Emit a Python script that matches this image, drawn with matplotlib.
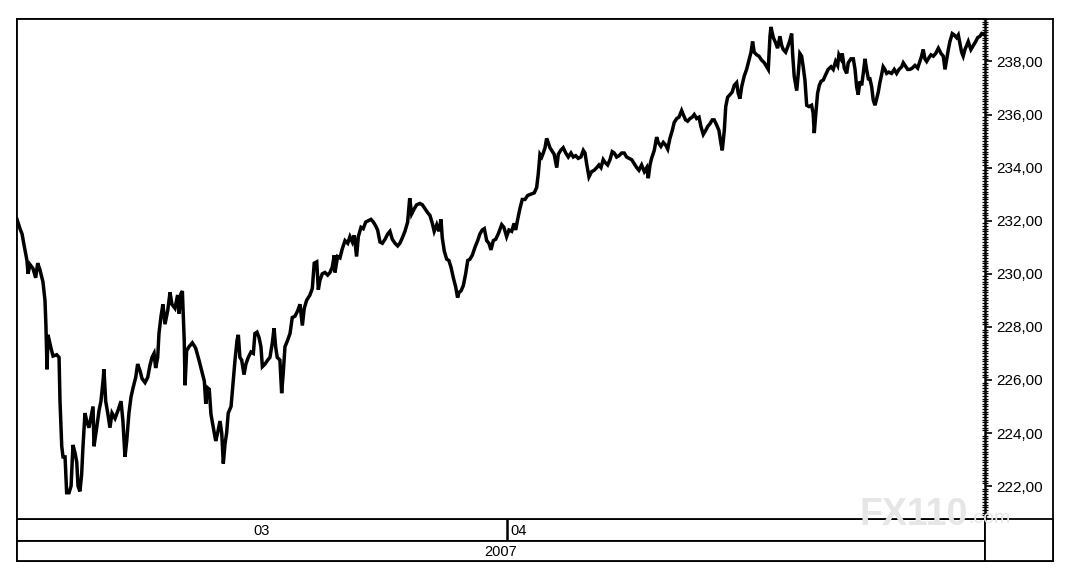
"""
Price chart, March-April 2007, drawn in the style of an old terminal printout.
"""

import matplotlib
matplotlib.use("Agg")
import matplotlib.pyplot as plt
from matplotlib.ticker import MultipleLocator, FuncFormatter

W, H = 1077, 577

# time in days since 1 March 2007, price
days = [
    0.00, 0.19, 0.32, 0.44, 0.63, 0.70, 0.82, 1.01, 1.18, 1.31, 1.45, 1.64, 1.77, 1.83, 1.90, 1.96,
    2.15, 2.28, 2.51, 2.66, 2.72, 2.83, 2.91, 3.04, 3.14, 3.29, 3.42, 3.54, 3.67, 3.78, 3.86, 3.98,
    4.09, 4.17, 4.30, 4.41, 4.55, 4.68, 4.81, 4.87, 5.04, 5.19, 5.31, 5.44, 5.50, 5.61, 5.74, 5.88,
    6.01, 6.20, 6.39, 6.58, 6.70, 6.83, 6.94, 7.08, 7.21, 7.34, 7.51, 7.63, 7.78, 7.91, 8.10, 8.27,
    8.41, 8.54, 8.67, 8.77, 8.90, 8.98, 9.11, 9.23, 9.36, 9.53, 9.68, 9.80, 9.99, 10.16, 10.25,
    10.37, 10.46, 10.58, 10.63, 10.73, 10.88, 11.09, 11.30, 11.51, 11.68, 11.85, 11.94, 12.06, 12.16,
    12.27, 12.42, 12.57, 12.69, 12.84, 12.95, 13.05, 13.16, 13.26, 13.36, 13.54, 13.68, 13.79, 13.92,
    14.00, 14.10, 14.21, 14.36, 14.48, 14.63, 14.80, 14.95, 15.05, 15.18, 15.31, 15.43, 15.52, 15.69,
    15.86, 16.00, 16.15, 16.26, 16.36, 16.46, 16.63, 16.74, 16.84, 16.95, 17.12, 17.27, 17.41, 17.58,
    17.75, 17.90, 18.05, 18.17, 18.32, 18.53, 18.68, 18.80, 18.96, 19.06, 19.16, 19.31, 19.48, 19.65,
    19.80, 19.94, 20.07, 20.11, 20.28, 20.43, 20.58, 20.75, 20.92, 21.06, 21.21, 21.33, 21.48, 21.59,
    21.76, 21.90, 22.06, 22.22, 22.39, 22.54, 22.69, 22.81, 22.96, 23.11, 23.28, 23.45, 23.59, 23.74,
    23.91, 24.08, 24.22, 24.37, 24.54, 24.71, 24.84, 24.96, 25.13, 25.28, 25.49, 25.64, 25.81, 25.98,
    26.12, 26.27, 26.39, 26.55, 26.69, 26.82, 26.90, 27.03, 27.18, 27.32, 27.45, 27.60, 27.75, 27.87,
    27.96, 28.08, 28.23, 28.38, 28.51, 28.65, 28.80, 28.97, 29.14, 29.28, 29.43, 29.56, 29.71, 29.85,
    29.98, 30.13, 30.28, 30.44, 30.66, 30.80, 30.97, 31.12, 31.29, 31.44, 31.54, 31.67, 31.81, 31.96,
    32.13, 32.30, 32.51, 32.72, 32.87, 32.97, 33.08, 33.19, 33.29, 33.40, 33.50, 33.60, 33.71, 33.82,
    33.98, 34.14, 34.24, 34.39, 34.55, 34.71, 34.87, 35.04, 35.19, 35.34, 35.50, 35.67, 35.82, 35.93,
    36.03, 36.18, 36.35, 36.51, 36.67, 36.81, 36.94, 37.08, 37.19, 37.36, 37.51, 37.65, 37.78, 37.93,
    38.08, 38.25, 38.41, 38.56, 38.71, 38.88, 39.04, 39.20, 39.34, 39.51, 39.68, 39.83, 39.93, 40.04,
    40.14, 40.31, 40.46, 40.56, 40.73, 40.88, 41.03, 41.16, 41.30, 41.45, 41.57, 41.73, 41.87, 42.04,
    42.14, 42.29, 42.42, 42.57, 42.71, 42.84, 42.99, 43.14, 43.26, 43.41, 43.56, 43.69, 43.83, 43.98,
    44.10, 44.26, 44.40, 44.53, 44.61, 44.74, 44.83, 44.95, 45.10, 45.24, 45.37, 45.52, 45.62, 45.73,
    45.84, 46.00, 46.15, 46.30, 46.43, 46.53, 46.63, 46.79, 46.93, 47.10, 47.27, 47.42, 47.52, 47.63,
    47.69, 47.84, 47.99, 48.11, 48.26, 48.37, 48.47, 48.62, 48.75, 48.89, 49.00, 49.06, 49.16, 49.32,
    49.42, 49.52, 49.63, 49.73, 49.84, 49.95, 50.09, 50.26, 50.36, 50.43, 50.51, 50.64, 50.75, 50.86,
    51.00, 51.15, 51.31, 51.49, 51.63, 51.78, 51.91, 51.99, 52.12, 52.20, 52.33, 52.48, 52.58, 52.75,
    52.90, 53.01, 53.11, 53.21, 53.32, 53.43, 53.53, 53.64, 53.74, 53.85, 53.95, 54.06, 54.16, 54.27,
    54.38, 54.48, 54.58, 54.69, 54.79, 54.90, 55.01, 55.15, 55.32, 55.49, 55.64, 55.79, 55.96, 56.06,
    56.17, 56.34, 56.48, 56.63, 56.80, 56.97, 57.11, 57.22, 57.32, 57.43, 57.54, 57.64, 57.81, 57.96,
    58.11, 58.28, 58.45, 58.59, 58.70, 58.81, 58.91, 59.01, 59.16, 59.28, 59.43, 59.54, 59.64, 59.75,
    59.85, 59.96, 60.07, 60.17, 60.34, 60.49, 60.64, 60.77, 60.91, 61.02, 61.20,
]

price = [
    232.05, 231.7, 231.5, 231.1, 230.5, 230.0, 230.35, 230.2, 229.85, 230.4, 230.15, 229.7, 229.0, 228.05, 226.4, 227.7,
    227.2, 226.9, 226.95, 226.85, 225.2, 223.5, 223.1, 223.1, 221.75, 221.75, 222.0, 223.55, 223.25, 222.9, 222.0, 221.8,
    222.45, 223.45, 224.75, 224.45, 224.2, 224.6, 225.0, 223.5, 224.2, 224.85, 225.2, 225.95, 226.4, 225.2, 224.75, 224.2,
    224.75, 224.55, 224.85, 225.2, 224.45, 223.1, 223.7, 224.75, 225.35, 225.7, 226.1, 226.6, 226.35, 226.05, 225.9, 226.1,
    226.55, 226.85, 227.0, 226.45, 226.85, 227.75, 228.4, 228.85, 228.1, 228.6, 229.3, 228.85, 228.7, 229.2, 228.5,
    229.25, 229.35, 227.45, 225.8, 227.1, 227.25, 227.4, 227.2, 226.75, 226.35, 225.95, 225.1, 225.7, 225.65,
    224.7, 224.2, 223.7, 224.0, 224.45, 224.0, 222.85, 223.6, 224.0, 224.75, 225.0, 226.0, 226.75, 227.5,
    227.7, 226.85, 226.75, 226.2, 226.6, 226.85, 227.05, 227.0, 227.75, 227.8, 227.6, 227.25, 226.5, 226.6,
    226.75, 226.85, 227.4, 227.95, 227.25, 226.85, 226.75, 225.5, 226.25, 227.25, 227.5, 227.75, 228.35, 228.4,
    228.6, 228.85, 228.05, 228.7, 229.0, 229.2, 229.45, 230.4, 230.45, 229.4, 229.75, 230.0, 230.05, 229.95,
    230.05, 230.25, 230.7, 230.05, 230.65, 230.6, 230.95, 231.25, 231.15, 231.4, 231.2, 231.45, 230.65, 231.4,
    231.75, 231.7, 231.95, 232.0, 232.05, 231.95, 231.8, 231.65, 231.2, 231.15, 231.3, 231.5, 231.6, 231.3,
    231.15, 231.05, 231.15, 231.35, 231.6, 231.95, 232.85, 232.25, 232.45, 232.6, 232.65, 232.6, 232.45, 232.3,
    232.2, 231.9, 231.6, 231.85, 231.6, 232.05, 231.35, 230.85, 230.55, 230.5, 230.25, 229.85, 229.5, 229.1,
    229.3, 229.35, 229.55, 230.0, 230.5, 230.55, 230.7, 231.0, 231.25, 231.5, 231.65, 231.7, 231.25, 231.15,
    230.9, 231.25, 231.3, 231.5, 231.85, 231.75, 231.4, 231.65, 231.6, 231.9, 231.65, 232.05, 232.45, 232.8,
    232.8, 232.95, 233.0, 233.05, 233.25, 233.75, 234.5, 234.4, 234.55, 234.75, 235.1, 234.95, 234.75, 234.65,
    234.5, 234.0, 234.5, 234.65, 234.75, 234.55, 234.4, 234.55, 234.4, 234.45, 234.35, 234.4, 234.65, 234.55,
    234.15, 233.65, 233.85, 233.9, 234.0, 234.1, 234.0, 234.3, 234.2, 234.1, 234.3, 234.6, 234.55, 234.4,
    234.45, 234.55, 234.55, 234.4, 234.35, 234.3, 234.15, 234.0, 233.9, 234.1, 233.85, 234.0, 233.6, 234.1,
    234.35, 234.65, 235.15, 234.95, 234.8, 234.95, 234.85, 234.7, 235.1, 235.4, 235.7, 235.85, 235.9, 236.15,
    236.0, 235.8, 235.75, 235.85, 235.9, 236.0, 235.85, 235.9, 235.55, 235.25, 235.4, 235.55, 235.65, 235.8,
    235.8, 235.6, 235.4, 234.9, 234.65, 235.4, 236.3, 236.65, 236.75, 236.85, 237.1, 237.2, 236.8, 236.6,
    237.05, 237.45, 237.7, 238.05, 238.35, 238.75, 238.35, 238.25, 238.2, 238.05, 237.95, 237.8, 237.7, 238.95,
    239.3, 238.9, 238.7, 238.5, 238.95, 238.6, 238.45, 238.35, 238.55, 238.8, 239.05, 238.3, 237.45, 236.9,
    237.55, 238.3, 238.2, 237.8, 237.3, 236.35, 236.3, 236.35, 236.05, 235.3, 235.9, 236.8, 237.1, 237.25,
    237.3, 237.5, 237.7, 237.8, 237.7, 238.0, 237.85, 238.25, 238.1, 238.3, 237.75, 237.55, 237.95, 238.1,
    238.1, 237.7, 237.05, 236.75, 237.25, 237.1, 237.55, 238.1, 237.7, 237.35, 237.35, 237.05, 236.55, 236.35,
    236.6, 236.85, 237.2, 237.5, 237.8, 237.7, 237.55, 237.6, 237.55, 237.7, 237.55, 237.7, 237.8, 237.95,
    237.85, 237.7, 237.7, 237.75, 237.85, 237.75, 238.0, 238.2, 238.45, 238.1, 238.0, 238.1, 238.25, 238.2,
    238.3, 238.5, 238.3, 238.2, 237.7, 238.1, 238.45, 238.75, 239.05, 239.0, 238.9, 239.0, 238.7, 238.35,
    238.2, 238.45, 238.6, 238.75, 238.45, 238.6, 238.75, 238.9, 238.95, 239.05, 239.0,
]

# month bands (start/end in days since 1 March) and the year band
month_labels = ["03", "04"]
month_starts = [0.0, 31.0]
month_ends = [31.0, 61.23]
year_label = "2007"

X_MAX = 61.23
Y_MIN, Y_MAX = 220.76, 239.60

plt.rcParams['font.family'] = ['Liberation Sans', 'DejaVu Sans']


def fig_rect(x0, y0, x1, y1):
    """Pixel box (top-left origin) -> figure fraction rect."""
    return [x0 / W, 1 - y1 / H, (x1 - x0) / W, (y1 - y0) / H]


def bare_axes(fig, rect, **kw):
    a = fig.add_axes(rect, **kw)
    a.set_xticks([])
    a.set_yticks([])
    for s in a.spines.values():
        s.set_linewidth(1.3)
        s.set_color('black')
    return a


fig = plt.figure(figsize=(W / 100, H / 100), dpi=100)
fig.patch.set_facecolor('white')

# outer frame
frame = bare_axes(fig, fig_rect(17, 19, 1053, 561))
frame.set_zorder(0)

# price panel
ax = fig.add_axes(fig_rect(17, 19, 985, 519))
ax.set_zorder(2)
ax.plot(days, price, color='black', lw=2.5, solid_joinstyle='miter')
ax.set_xlim(0, X_MAX)
ax.set_ylim(Y_MIN, Y_MAX)
ax.set_xticks([])
ax.yaxis.tick_right()
ax.yaxis.set_major_locator(MultipleLocator(2))
ax.yaxis.set_minor_locator(MultipleLocator(0.1))
ax.yaxis.set_major_formatter(FuncFormatter(lambda v, p: f"{v:.2f}".replace('.', ',')))
ax.tick_params(axis='y', which='major', direction='out', length=5, width=1.2,
               pad=3, labelsize=11, colors='black')
ax.tick_params(axis='y', which='minor', direction='inout', length=4, width=0.9)
for s in ax.spines.values():
    s.set_linewidth(1.3)
ax.spines['right'].set_linewidth(1.8)

# month band
mband = bare_axes(fig, fig_rect(17, 519, 985, 541))
mband.set_xlim(0, X_MAX)
mband.set_ylim(0, 1)
for lab, a, b in zip(month_labels, month_starts, month_ends):
    if a > 0:
        mband.axvline(a, color='black', lw=1.8)
        mband.text(a + 0.2, 0.45, lab, ha='left', va='center', fontsize=10.5)
    else:
        mband.text((a + b) / 2, 0.45, lab, ha='center', va='center', fontsize=10.5)

# year band
yband = bare_axes(fig, fig_rect(17, 541, 985, 561))
yband.set_xlim(0, X_MAX)
yband.set_ylim(0, 1)
yband.text(X_MAX / 2, 0.45, year_label, ha='center', va='center', fontsize=10.5)

# empty corner box under the price scale
bare_axes(fig, fig_rect(985, 519, 1053, 561))

# faint site watermark
fig.text(860 / W, 1 - 525 / H, "FX110", color='#e6e6e6', fontsize=27,
         fontweight='bold', ha='left', va='baseline', zorder=10)
fig.text(968 / W, 1 - 523 / H, ".com", color='#e6e6e6', fontsize=14,
         ha='left', va='baseline', zorder=10)

fig.savefig("out.png", dpi=100, facecolor='white')
